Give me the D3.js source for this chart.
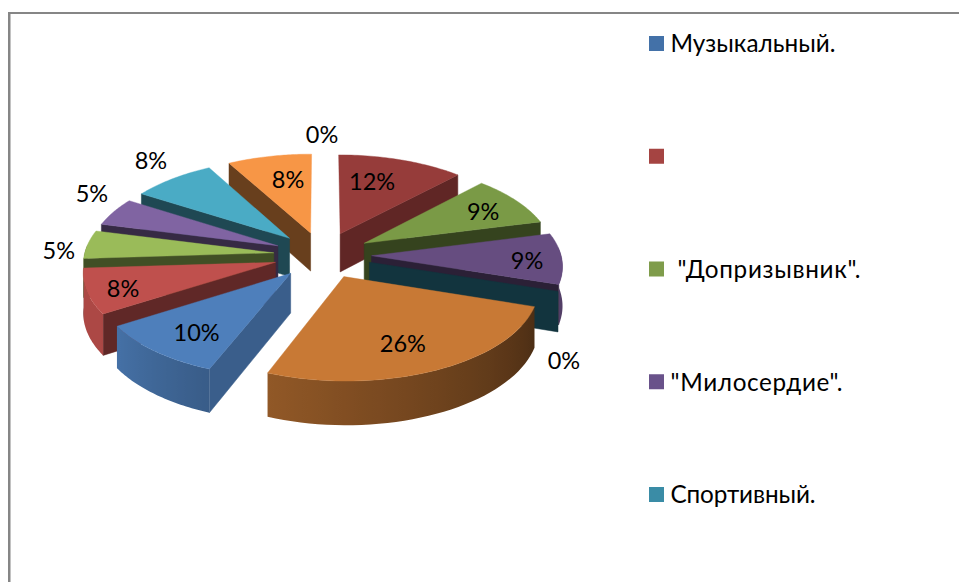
<!DOCTYPE html>
<html><head><meta charset="utf-8">
<script src="https://cdn.jsdelivr.net/npm/d3@7/dist/d3.min.js"></script>
<style>html,body{margin:0;padding:0;background:#fff;overflow:hidden}svg{display:block}text{font-family:Lato,"Open Sans",sans-serif;fill:#000;white-space:pre}</style>
</head><body><svg id="c" width="959" height="582"></svg>
<script>
// data
const sliceValues = [0, 12, 9, 9, 0, 26, 10, 8, 5, 5, 8, 8];
const sliceLabels = ["0%", "12%", "9%", "9%", "0%", "26%", "10%", "8%", "5%", "5%", "8%", "8%"];
const sliceColors = ["#385D8A", "#963C3A", "#7A9A46", "#664D80", "#2C7C94", "#C87935", "#4E7FBB", "#BF504D", "#9ABB59", "#8064A2", "#4AABC5", "#F79646"];
const legendNames = ["Музыкальный.", "", " \"Допризывник\".", "\"Милосердие\".", "Спортивный."];
const legendColors = ["#4371A8", "#A54442", "#7F9C4B", "#69528A", "#3A8CA6"];
// layout
const legendWidths = [165, 0, 190, 172, 145];
const labelOffsets = [[-0.5,-98],[32,-53],[119,-32],[155.5,4],[194.5,98],[59,66],[-94,59],[-152.5,26],[-215,-3],[-186,-53],[-138.6,-78],[-22.6,-54]];
const cx = 322.5, cy = 255, R = 189.5, E = 49, H = 39, D = 2000, K = 0.476;

const svg = d3.select("#c");
const defs = svg.append("defs");
svg.append("rect").attr("x",8).attr("y",12).attr("width",951).attr("height",2).attr("fill","#868686");
svg.append("rect").attr("x",8).attr("y",12).attr("width",2.5).attr("height",570).attr("fill","#868686");

const pie = d3.pie().sort(null).value(d => d).startAngle(0).endAngle(2*Math.PI);
const arcs = pie(sliceValues).map((a,i) => ({...a, i, mid:(a.startAngle+a.endAngle)/2}));
const project = (x,v,h=0) => { const s = D/(D+v); return [cx + x*s, cy - K*v*s + h*s]; };
const line = d3.line();
const deg = r => r*180/Math.PI;
// brightness of flat radial faces by their normal direction; of the rim by its angle
const faceShade = d3.scaleLinear().domain([100,135,150,170,360]).range([.8,.63,.48,.42,.42]).clamp(true);
const rimShade = d3.scaleLinear().domain([108,200,240,266,267]).range([.38,.72,.9,.9,.42]).clamp(true);
const shade = (c,k) => { const q = d3.rgb(c); return d3.rgb(q.r*k,q.g*k,q.b*k).formatHex(); };

const order = arcs.slice().sort((a,b) => Math.cos(b.mid)-Math.cos(a.mid));
const g = svg.append("g");
order.forEach(a => {
  const ox = E*Math.sin(a.mid), ov = E*Math.cos(a.mid);
  const rimPt = (t,h) => project(ox+R*Math.sin(t), ov+R*Math.cos(t), h);
  const apex = h => project(ox,ov,h);
  const col = sliceColors[a.i];
  const face = (t,n) => {
    const nd = ((deg(n)%360)+360)%360;
    if (Math.cos(n) >= 0) return;
    const f = shade(col, faceShade(nd));
    g.append("path").attr("d", line([apex(0),rimPt(t,0),rimPt(t,H),apex(H)])+"Z").attr("fill",f).attr("stroke",f).attr("stroke-width",.5);
  };
  face(a.startAngle, a.startAngle-Math.PI/2);
  face(a.endAngle, a.endAngle+Math.PI/2);
  if (a.endAngle > a.startAngle) {
    const n = 40;
    const ts = d3.range(n+1).map(j => a.startAngle+(a.endAngle-a.startAngle)*j/n);
    const front = ts.filter(t => Math.cos(t) < 0.1);
    if (front.length > 1) {
      const x0 = rimPt(front[0],0)[0], x1 = rimPt(front[front.length-1],0)[0];
      const id = "rim"+a.i;
      const grad = defs.append("linearGradient").attr("id",id).attr("gradientUnits","userSpaceOnUse")
        .attr("x1",x0).attr("y1",0).attr("x2",x1).attr("y2",0);
      front.forEach(t => {
        // slices ending at or before the big slice keep a lit rim
        const k = deg(a.mid) < 108 ? 0.8 : rimShade(deg(t));
        grad.append("stop").attr("offset",(rimPt(t,0)[0]-x0)/(x1-x0)).attr("stop-color",shade(col,k));
      });
      const outline = front.map(t => rimPt(t,0)).concat(front.slice().reverse().map(t => rimPt(t,H)));
      g.append("path").attr("d", line(outline)+"Z").attr("fill",`url(#${id})`);
    }
    const top = [apex(0)].concat(ts.map(t => rimPt(t,0)));
    g.append("path").attr("d", line(top)+"Z").attr("fill",col).attr("stroke",col).attr("stroke-width",.4);
  }
});
arcs.forEach(a => {
  const ox = E*Math.sin(a.mid), ov = E*Math.cos(a.mid);
  const p = project(ox,ov);
  const off = labelOffsets[a.i];
  svg.append("text").attr("x",p[0]+off[0]).attr("y",p[1]+off[1]).attr("text-anchor","middle").attr("dominant-baseline","central").attr("font-size",23.5).text(sliceLabels[a.i]);
});
const ly = d3.scaleLinear().domain([0,4]).range([43.5,494.5]);
legendNames.forEach((n,i) => {
  svg.append("rect").attr("x",649).attr("y",ly(i)-7.5).attr("width",15).attr("height",15).attr("fill",legendColors[i]);
  const t = svg.append("text").attr("x",670.5).attr("y",ly(i)-0.7).attr("dominant-baseline","central").attr("font-size",24.3).text(n);
  if (legendWidths[i]) t.attr("textLength",legendWidths[i]).attr("lengthAdjust","spacing");
});
</script></body></html>
